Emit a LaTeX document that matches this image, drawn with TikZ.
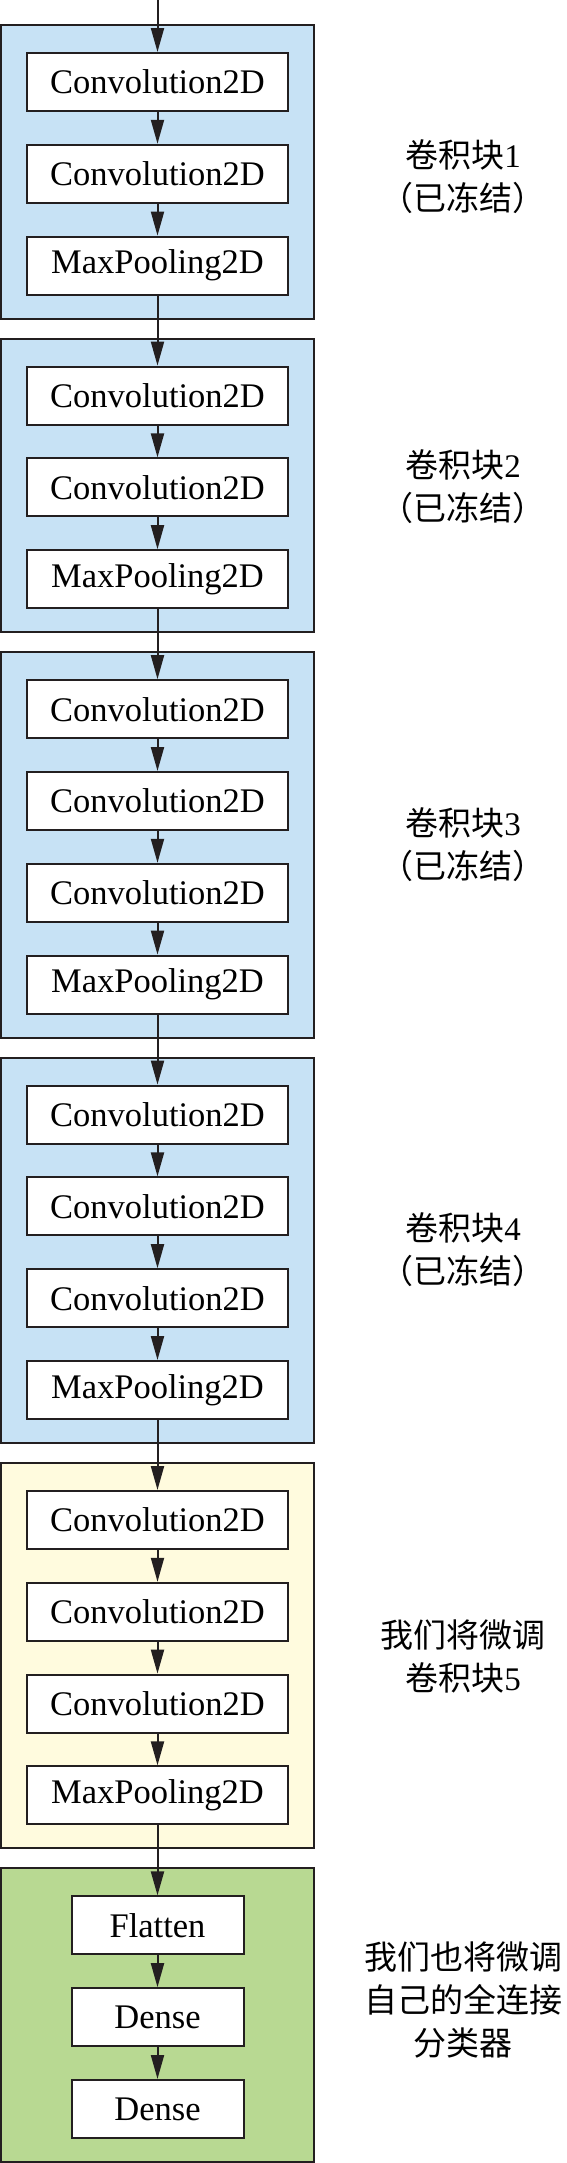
\documentclass[tikz,border=0pt]{standalone}
\usepackage{fontspec}
\setmainfont{Liberation Serif}
\newfontfamily\cjk{Noto Sans CJK SC}
\usetikzlibrary{arrows.meta}

\definecolor{frozenblue}{RGB}{199,226,245}
\definecolor{tuneyellow}{RGB}{255,251,222}
\definecolor{densegreen}{RGB}{184,217,146}
\definecolor{edgegray}{RGB}{35,31,32}

\tikzset{
  layer/.style={draw=edgegray, line width=1pt, fill=white, inner sep=0pt,
    minimum width=130.5pt, minimum height=29pt, font=\fontsize{17.25}{20}\selectfont},
  smalllayer/.style={layer, minimum width=86pt},
  block/.style={draw=edgegray, line width=1pt},
  flow/.style={draw=edgegray, line width=1pt, -{Triangle[length=12pt,width=6.5pt]}},
  note/.style={align=center, font=\fontsize{16.5}{21.5}\selectfont}
}

\begin{document}
\begin{tikzpicture}[x=0.5pt, y=-0.5pt]
    \useasboundingbox (0,0) rectangle (567,2163);
    % the six blocks
    \draw[block, fill=frozenblue] (1.3,25) rectangle (314,318.6);
    \draw[block, fill=frozenblue] (1.3,338.6) rectangle (314,632.2);
    \draw[block, fill=frozenblue] (1.3,652.2) rectangle (314,1037.6);
    \draw[block, fill=frozenblue] (1.3,1057.6) rectangle (314,1443);
    \draw[block, fill=tuneyellow] (1.3,1463) rectangle (314,1848.4);
    \draw[block, fill=densegreen] (1.3,1868.4) rectangle (314,2162);

    % block 1
    \foreach \i/\y in {1/82, 2/173.8}
    {
    \node[layer] (b1c\i) at (157.5,\y) {Convolution2D};
    }
    \node[layer] (b1p) at (157.5,265.6) {MaxPooling2D};
    % block 2
    \foreach \i/\y in {1/395.6, 2/487.4}
    {
    \node[layer] (b2c\i) at (157.5,\y) {Convolution2D};
    }
    \node[layer] (b2p) at (157.5,579.2) {MaxPooling2D};
    % block 3
    \foreach \i/\y in {1/709.2, 2/801, 3/892.8}
    {
    \node[layer] (b3c\i) at (157.5,\y) {Convolution2D};
    }
    \node[layer] (b3p) at (157.5,984.6) {MaxPooling2D};
    % block 4
    \foreach \i/\y in {1/1114.6, 2/1206.4, 3/1298.2}
    {
    \node[layer] (b4c\i) at (157.5,\y) {Convolution2D};
    }
    \node[layer] (b4p) at (157.5,1390) {MaxPooling2D};
    % block 5
    \foreach \i/\y in {1/1520, 2/1611.8, 3/1703.6}
    {
    \node[layer] (b5c\i) at (157.5,\y) {Convolution2D};
    }
    \node[layer] (b5p) at (157.5,1795.4) {MaxPooling2D};
    % classifier
    \node[smalllayer] (flat) at (157.5,1925.4) {Flatten};
    \node[smalllayer] (dense1) at (157.5,2017.2) {Dense};
    \node[smalllayer] (dense2) at (157.5,2109) {Dense};

    % connections
    \coordinate (input) at (157.5,0);
    \draw[flow] (input) -- (b1c1);
    \draw[flow] (b1c1) -- (b1c2);
    \draw[flow] (b1c2) -- (b1p);
    \draw[flow] (b1p) -- (b2c1);
    \draw[flow] (b2c1) -- (b2c2);
    \draw[flow] (b2c2) -- (b2p);
    \draw[flow] (b2p) -- (b3c1);
    \foreach \n in {3,4,5}
    {
    \draw[flow] (b\n c1) -- (b\n c2);
    \draw[flow] (b\n c2) -- (b\n c3);
    \draw[flow] (b\n c3) -- (b\n p);
    }
    \draw[flow] (b3p) -- (b4c1);
    \draw[flow] (b4p) -- (b5c1);
    \draw[flow] (b5p) -- (flat);
    \draw[flow] (flat) -- (dense1);
    \draw[flow] (dense1) -- (dense2);

    % notes
    \node[note] (note1) at (463,176.5) {{\cjk 卷积块}1\\{\cjk （已冻结）}};
    \node[note] (note2) at (463,487) {{\cjk 卷积块}2\\{\cjk （已冻结）}};
    \node[note] (note3) at (463,844.5) {{\cjk 卷积块}3\\{\cjk （已冻结）}};
    \node[note] (note4) at (463,1250) {{\cjk 卷积块}4\\{\cjk （已冻结）}};
    \node[note] (note5) at (463,1656) {{\cjk 我们将微调}\\{\cjk 卷积块}5};
    \node[note] (note6) at (463,2000) {{\cjk 我们也将微调}\\{\cjk 自己的全连接}\\{\cjk 分类器}};
\end{tikzpicture}
\end{document}
